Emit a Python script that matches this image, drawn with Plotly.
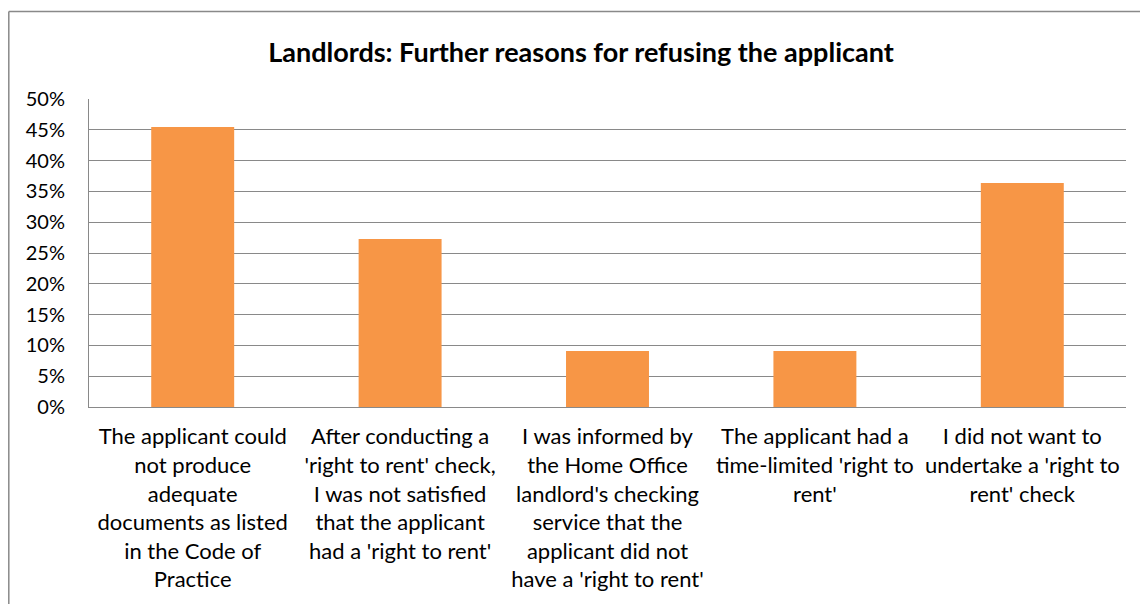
import plotly.graph_objects as go

categories = [
    "The applicant could<br>not produce<br>adequate<br>documents as listed<br>in the Code of<br>Practice",
    "After conducting a<br>'right to rent' check,<br>I was not satisfied<br>that the applicant<br>had a 'right to rent'",
    "I was informed by<br>the Home Office<br>landlord's checking<br>service that the<br>applicant did not<br>have a 'right to rent'",
    "The applicant had a<br>time-limited 'right to<br>rent'",
    "I did not want to<br>undertake a 'right to<br>rent' check",
]
values = [0.4545, 0.2727, 0.0909, 0.0909, 0.3636]
y_ticks = [0, 0.05, 0.10, 0.15, 0.20, 0.25, 0.30, 0.35, 0.40, 0.45, 0.50]

# the page body has an 8px margin; figure is sized to fit the 1148x604 window
OFF = 8
W, H = 1148 - OFF, 604 - OFF
L, R, T, B = 89 - OFF, 22, 99 - OFF, 197
pw, ph = W - L - R, H - T - B

fig = go.Figure(go.Bar(
    x=categories, y=values,
    marker=dict(color="#F79646", line=dict(width=0)),
    width=0.4,
))

def px_x(p):  # page pixel -> paper fraction
    return (p - OFF - L) / pw

def px_y(p):
    return (H - B - (p - OFF)) / ph

grid_col = "#898989"
fig.update_layout(
    width=W, height=H,
    margin=dict(l=L, r=R, t=T, b=B, autoexpand=False),
    paper_bgcolor="white", plot_bgcolor="white",
    font=dict(family="Lato, Carlito, Calibri, sans-serif", size=22, color="black"),
    title=dict(text="<b>Landlords: Further reasons for refusing the applicant</b>",
               font=dict(size=27, color="black"),
               x=px_x(581), xref="paper", xanchor="center",
               y=1 - (53 - OFF) / H, yref="container", yanchor="middle"),
    showlegend=False,
    bargap=0.6,
    xaxis=dict(showgrid=False, showline=True, linecolor=grid_col, linewidth=1,
               ticks="", tickfont=dict(size=22), ticklabelstandoff=10),
    yaxis=dict(range=[0, 0.5], tickvals=y_ticks, tickformat=".0%",
               showgrid=True, gridcolor=grid_col, gridwidth=1,
               showline=True, linecolor=grid_col, linewidth=1,
               ticks="", ticklabelstandoff=19, tickfont=dict(size=20),
               zeroline=False),
    shapes=[
        dict(type="line", xref="paper", yref="paper",
             x0=px_x(8.8), x1=px_x(8.8), y0=px_y(11.5), y1=px_y(610),
             line=dict(color="#898989", width=1.5)),
        dict(type="line", xref="paper", yref="paper",
             x0=px_x(8.8), x1=px_x(1150), y0=px_y(11.5), y1=px_y(11.5),
             line=dict(color="#898989", width=1.5)),
    ],
)

fig.write_html("out.html")
